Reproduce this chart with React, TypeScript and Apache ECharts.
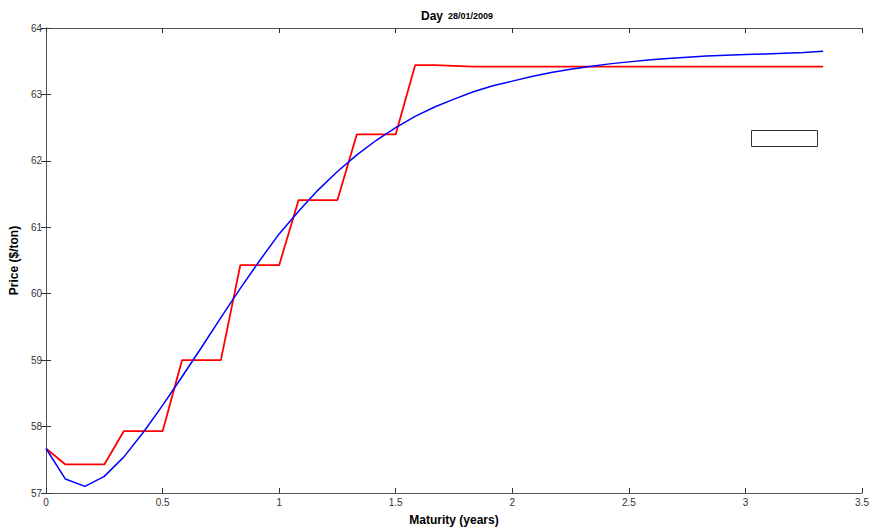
import React, { useEffect, useRef } from "react";
import * as echarts from "echarts";

// Month index of each maturity (maturity in years = month / 12)
const months = [0, 1, 2, 3, 4, 5, 6, 7, 8, 9, 10, 11, 12, 13, 14, 15, 16, 17, 18, 19, 20,
  21, 22, 23, 24, 25, 26, 27, 28, 29, 30, 31, 32, 33, 34, 35, 36, 37, 38, 39, 40];

// Red: stepwise forward prices
const redPrices = [57.67, 57.43, 57.43, 57.43, 57.93, 57.93, 57.93, 59.0, 59.0, 59.0,
  60.43, 60.43, 60.43, 61.41, 61.41, 61.41, 62.4, 62.4, 62.4, 63.44, 63.44,
  63.43, 63.42, 63.42, 63.42, 63.42, 63.42, 63.42, 63.42, 63.42, 63.42, 63.42,
  63.42, 63.42, 63.42, 63.42, 63.42, 63.42, 63.42, 63.42, 63.42];

// Blue: smooth fitted curve
const bluePrices = [57.67, 57.21, 57.1, 57.25, 57.54, 57.91, 58.32, 58.75, 59.19, 59.64,
  60.08, 60.5, 60.9, 61.24, 61.56, 61.84, 62.09, 62.31, 62.5, 62.67, 62.81,
  62.93, 63.04, 63.13, 63.2, 63.27, 63.33, 63.38, 63.42, 63.46, 63.49, 63.52,
  63.54, 63.56, 63.58, 63.59, 63.6, 63.61, 63.62, 63.63, 63.65];

const xTicks = { min: 0, max: 3.5, interval: 0.5 };
const yTicks = { min: 57, max: 64, interval: 1 };

export default function App() {
  const ref = useRef<HTMLDivElement>(null);
  useEffect(() => {
    if (!ref.current) return;
    const chart = echarts.init(ref.current, null, { renderer: "svg" });
    const font = "'Liberation Sans', Arial, sans-serif";
    const axisLine = { show: true, lineStyle: { color: "#555", width: 1 } };
    const tick = { show: true, inside: true, length: 5, lineStyle: { color: "#333" } };
    const label = { color: "#333", fontSize: 10, fontFamily: font };
    const toPairs = (vals: number[]) => months.map((m, i) => [m / 12, vals[i]]);
    chart.setOption({
      animation: false,
      backgroundColor: "#fff",
      grid: { left: 43, right: 12, top: 28, bottom: 36, containLabel: false },
      title: {
        text: "{a|Day} {b|28/01/2009}",
        left: 452,
        textAlign: "center",
        top: 2,
        textStyle: {
          rich: {
            a: { fontSize: 12, fontWeight: "bold", fontFamily: font, color: "#000" },
            b: { fontSize: 9, fontWeight: "bold", fontFamily: font, color: "#000" },
          },
        },
      },
      xAxis: [
        {
          type: "value",
          ...xTicks,
          position: "bottom",
          axisLine,
          axisTick: tick,
          splitLine: { show: false },
          axisLabel: { ...label, margin: 4 },
          name: "Maturity (years)",
          nameLocation: "middle",
          nameGap: 21,
          nameTextStyle: { fontSize: 12, fontWeight: "bold", fontFamily: font, color: "#000" },
        },
        {
          type: "value",
          ...xTicks,
          position: "top",
          axisLine,
          axisTick: tick,
          splitLine: { show: false },
          axisLabel: { show: false },
        },
      ],
      yAxis: [
        {
          type: "value",
          ...yTicks,
          position: "left",
          axisLine,
          axisTick: tick,
          splitLine: { show: false },
          axisLabel: { ...label, margin: 4 },
          name: "Price ($/ton)",
          nameLocation: "middle",
          nameGap: 22,
          nameRotate: 90,
          nameTextStyle: { fontSize: 12, fontWeight: "bold", fontFamily: font, color: "#000" },
        },
        {
          type: "value",
          ...yTicks,
          position: "right",
          axisLine,
          axisTick: tick,
          splitLine: { show: false },
          axisLabel: { show: false },
        },
      ],
      series: [
        {
          type: "line",
          name: "Forward",
          data: toPairs(redPrices),
          showSymbol: false,
          lineStyle: { color: "#ff0000", width: 1.8 },
          itemStyle: { color: "#ff0000" },
          z: 2,
        },
        {
          type: "line",
          name: "Fitted",
          data: toPairs(bluePrices),
          showSymbol: false,
          lineStyle: { color: "#0000ff", width: 1.5 },
          itemStyle: { color: "#0000ff" },
          z: 3,
        },
      ],
      graphic: [
        {
          type: "rect",
          shape: { x: 751.5, y: 130.5, width: 66, height: 16 },
          style: { fill: "#fff", stroke: "#333", lineWidth: 1 },
        },
      ],
    });
    return () => chart.dispose();
  }, []);
  return (
    <div
      ref={ref}
      style={{ position: "fixed", left: 0, top: 0, width: 874, height: 531, background: "#fff" }}
    />
  );
}
